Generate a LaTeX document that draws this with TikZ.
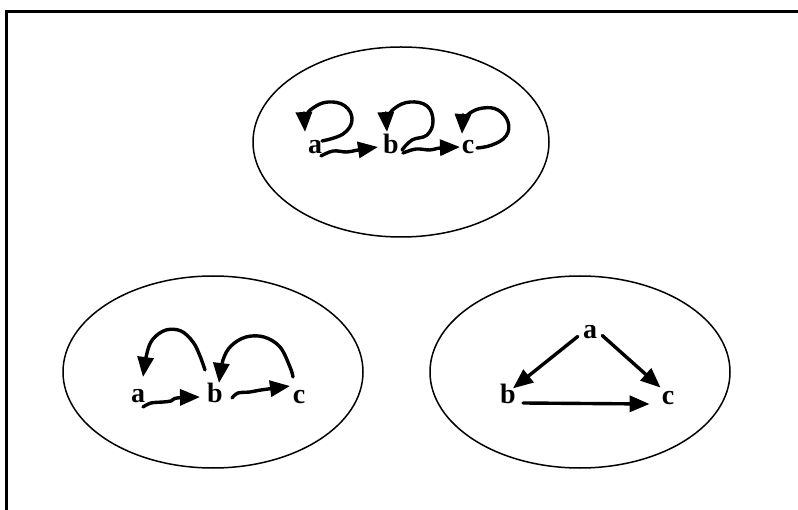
\documentclass[tikz,border=0pt]{standalone}
\usepackage{fontspec}
\setmainfont{Liberation Serif}
\usetikzlibrary{arrows.meta,calc}
\begin{document}
\begin{tikzpicture}[x=1pt,y=-1pt,
  lbl/.style={font=\fontsize{28}{28}\selectfont\bfseries, inner sep=0pt, anchor=base},
  oval/.style={draw, line width=1.5pt},
  arr/.style={line width=3.4pt, -{Triangle[length=20pt,width=16pt]}, line cap=round, line join=round},
  frame/.style={line width=3pt},
]
\useasboundingbox (0,0) rectangle (798,510);
\draw[frame] (6,512) -- (6,12) -- (800,12);

% ovals
\draw[oval] (401,142) ellipse [x radius=148pt, y radius=95pt];
\draw[oval] (213,372) ellipse [x radius=150pt, y radius=96pt];
\draw[oval] (580,372) ellipse [x radius=150pt, y radius=96pt];

% top oval
\node[lbl] (ta) at (315,154) {a};
\node[lbl] (tb) at (391,154) {b};
\node[lbl] (tc) at (468,154) {c};
\draw[arr] plot[smooth, tension=0.6] coordinates {(321,156) (333,151) (347,152) (358,150) (378,147)};
\draw[arr] plot[smooth, tension=0.7] coordinates {(322,141) (343,134) (352,120) (345,106) (328,102) (313,108) (306,117) (305,132)};
\draw[arr] plot[smooth, tension=0.6] coordinates {(403,153) (416,149) (430,150) (440,148) (460,147)};
\draw[arr] plot[smooth, tension=0.7] coordinates {(402,150) (412,140) (427,135) (433,121) (427,106) (410,102) (395,108) (388,118) (387,132)};
\draw[arr] plot[smooth, tension=0.7] coordinates {(477,148) (492,145) (506,136) (508,122) (498,110) (483,108) (470,113) (464,121) (462,134)};

% bottom-left oval
\node[lbl] (la) at (138,403) {a};
\node[lbl] (lb) at (215,403) {b};
\node[lbl] (lc) at (299,404) {c};
\draw[arr] plot[smooth, tension=0.6] coordinates {(143,407) (151,403) (163,402) (171,401) (177,398) (200,397)};
\draw[arr] plot[smooth, tension=0.6] coordinates {(232,398) (238,393) (250,392) (261,390) (290,386)};
\draw[arr] plot[smooth, tension=0.6] coordinates {(205,370) (200,356) (193,342) (181,331) (166,330) (153,339) (147,353) (143,377)};
\draw[arr] plot[smooth, tension=0.6] coordinates {(293,377) (290,367) (280,347) (264,337) (246,337) (231,346) (223,360) (219,383)};

% bottom-right oval
\node[lbl] (ra) at (590,339) {a};
\node[lbl] (rb) at (508,404) {b};
\node[lbl] (rc) at (668,405) {c};
\draw[arr] ([xshift=-5pt,yshift=3pt]ra.south west) -- ([xshift=-3pt,yshift=-4pt]rb.north east);
\draw[arr] ([xshift=5pt,yshift=4pt]ra.south east) -- ([xshift=-1pt,yshift=4pt]rc.north west);
\draw[arr] ([xshift=7pt,yshift=1pt]rb.base east) -- ([xshift=-12pt,yshift=1pt]rc.base west);
\end{tikzpicture}
\end{document}
